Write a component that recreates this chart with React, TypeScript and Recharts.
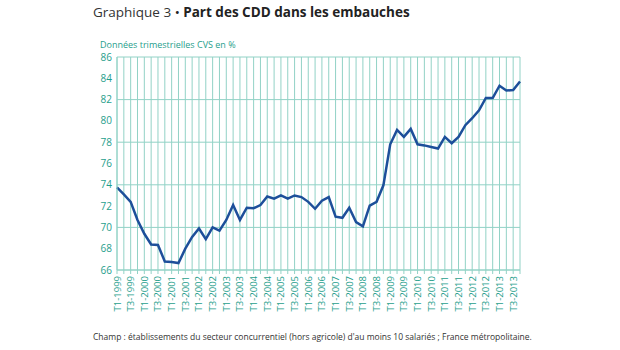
import { LineChart, Line, XAxis, YAxis, CartesianGrid } from 'recharts';

const years = [1999, 2000, 2001, 2002, 2003, 2004, 2005, 2006, 2007, 2008, 2009, 2010, 2011, 2012, 2013];
const quarters = ['T1', 'T2', 'T3', 'T4'];

// part des CDD, en %, T1-1999 -> T4-2013
const cddShare = [
  73.75, 73.1, 72.4, 70.7, 69.4, 68.4, 68.35, 66.8, 66.75, 66.65,
  68.0, 69.1, 69.9, 68.9, 70.0, 69.7, 70.7, 72.1, 70.7, 71.85,
  71.8, 72.1, 72.9, 72.7, 73.0, 72.7, 73.0, 72.85, 72.4, 71.75,
  72.5, 72.85, 71.0, 70.9, 71.85, 70.5, 70.1, 72.05, 72.4, 73.95,
  77.8, 79.15, 78.5, 79.25, 77.8, 77.7, 77.55, 77.4, 78.5, 77.9,
  78.5, 79.6, 80.25, 81.0, 82.15, 82.15, 83.3, 82.85, 82.9, 83.7,
];

const yTicks = [66, 68, 70, 72, 74, 76, 78, 80, 82, 84, 86];

const labels = years.flatMap((y) => quarters.map((q) => `${q}-${y}`));
const data = labels.map((q, i) => ({ q, value: cddShare[i] }));

const TEAL = '#1f9e8c';
const GRID = '#92d2c6';
const FONT = '"Open Sans", "DejaVu Sans", sans-serif';

function QuarterTick({ x, y, payload }: any) {
  const label: string = payload.value;
  if (!(label.startsWith('T1') || label.startsWith('T3'))) return null;
  return (
    <text
      x={x}
      y={y}
      transform={`rotate(-90, ${x}, ${y})`}
      textAnchor="end"
      dominantBaseline="central"
      fill={TEAL}
      fontSize={9.5}
      fontFamily={FONT}
    >
      {label}
    </text>
  );
}

export default function App() {
  return (
    <div
      style={{
        position: 'absolute',
        left: 0,
        top: 0,
        width: 620,
        height: 350,
        background: '#fff',
        fontFamily: FONT,
      }}
    >
      <div style={{ position: 'absolute', left: 93, top: 3, fontSize: 13.5, color: '#333', whiteSpace: 'nowrap' }}>
        Graphique 3 <span style={{ color: '#222' }}>•</span>{' '}
        <b style={{ color: '#222' }}>Part des CDD dans les embauches</b>
      </div>
      <div style={{ position: 'absolute', left: 100, top: 38, fontSize: 9, color: TEAL, whiteSpace: 'nowrap' }}>
        Données trimestrielles CVS en %
      </div>
      <LineChart
        width={620}
        height={350}
        data={data}
        margin={{ top: 57, right: 100, bottom: 30, left: 0 }}
      >
        <CartesianGrid stroke={GRID} strokeWidth={1} />
        <XAxis
          dataKey="q"
          interval={0}
          height={50}
          tick={<QuarterTick />}
          tickSize={4}
          tickMargin={2}
          stroke={GRID}
          axisLine={{ stroke: GRID }}
          tickLine={{ stroke: GRID }}
        />
        <YAxis
          domain={[66, 86]}
          ticks={yTicks}
          width={117}
          tickSize={0}
          tickMargin={5}
          axisLine={{ stroke: GRID }}
          tick={{ fill: TEAL, fontSize: 10, fontFamily: FONT }}
        />
        <Line
          type="linear"
          dataKey="value"
          stroke="#1d4f9a"
          strokeWidth={2.5}
          dot={false}
          isAnimationActive={false}
        />
      </LineChart>
      <div style={{ position: 'absolute', left: 93, top: 331, fontSize: 8.5, color: '#333', whiteSpace: 'nowrap' }}>
        Champ : établissements du secteur concurrentiel (hors agricole) d'au moins 10 salariés ; France métropolitaine.
      </div>
    </div>
  );
}
